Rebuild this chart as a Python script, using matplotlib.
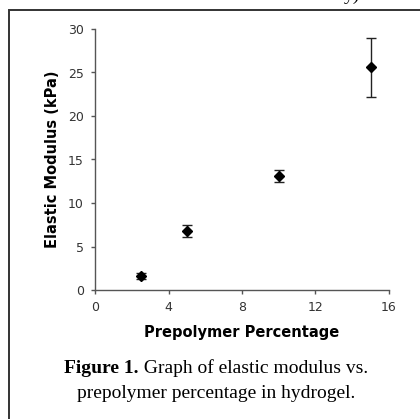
import matplotlib.pyplot as plt
from matplotlib.patches import Rectangle

plt.rcParams["font.family"] = "DejaVu Sans"

# prepolymer percentage vs elastic modulus (mean, std)
percentuais = [2.5, 5, 10, 15]
modulo = [1.6, 6.8, 13.1, 25.6]
erro = [0.35, 0.7, 0.7, 3.4]

x_ticks = [0, 4, 8, 12, 16]
y_ticks = [0, 5, 10, 15, 20, 25, 30]

fig = plt.figure(figsize=(4.2, 4.19), dpi=100)
ax = fig.add_axes([95 / 420, 1 - 290 / 419, 294 / 420, 261 / 419])

ax.errorbar(percentuais, modulo, yerr=erro, fmt="D", color="black",
            ecolor="#222222", markersize=5, elinewidth=1.0, capsize=3.5,
            capthick=1.0, clip_on=False)

ax.set_xlim(0, 16)
ax.set_ylim(0, 30)
ax.set_xticks(x_ticks)
ax.set_yticks(y_ticks)
ax.spines["top"].set_visible(False)
ax.spines["right"].set_visible(False)
for s in ("left", "bottom"):
    ax.spines[s].set_color("#555555")
    ax.spines[s].set_linewidth(1.0)
ax.tick_params(direction="out", length=3, width=1, color="#555555",
               labelsize=9, labelcolor="#333333")
ax.tick_params(axis="x", pad=5)
ax.tick_params(axis="y", pad=5)

ax.set_xlabel("Prepolymer Percentage", fontsize=10.5, fontweight="bold", labelpad=8)
ax.set_ylabel("Elastic Modulus (kPa)", fontsize=10.5, fontweight="bold", labelpad=6)

# moldura da figura (cortada a direita e embaixo)
fig.patches.append(Rectangle((8.5 / 420, -0.05), 1.2, 1 - 10.5 / 419 + 0.05,
                             transform=fig.transFigure, fill=False,
                             edgecolor="#333333", linewidth=1.4))

# resto da linha anterior do texto
fig.text(352 / 420, 1.012, "y)", fontsize=14, family="Liberation Serif",
         ha="center", va="center")

# legenda da figura: "Figure 1." em negrito + resto normal
fig.canvas.draw()
renderer = fig.canvas.get_renderer()
serif = "Liberation Serif"
cx = 216 / 420
y1 = 1 - 368 / 419
y2 = 1 - 393 / 419
t_bold = fig.text(0, y1, "Figure 1.", fontsize=14, family=serif,
                  fontweight="bold", va="center")
t_rest = fig.text(0, y1, " Graph of elastic modulus vs.", fontsize=14,
                  family=serif, va="center")
w_bold = t_bold.get_window_extent(renderer).width / fig.bbox.width
w_rest = t_rest.get_window_extent(renderer).width / fig.bbox.width
x0 = cx - (w_bold + w_rest) / 2
t_bold.set_x(x0)
t_rest.set_x(x0 + w_bold)
fig.text(cx, y2, "prepolymer percentage in hydrogel.", fontsize=14,
         family=serif, ha="center", va="center")

fig.savefig("out.png", dpi=100)
